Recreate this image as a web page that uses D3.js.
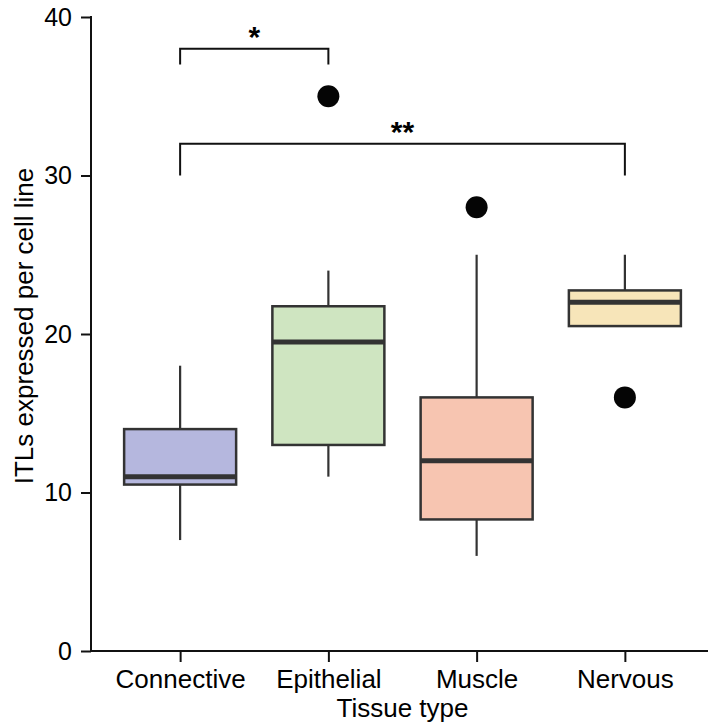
<!DOCTYPE html>
<html>
<head>
<meta charset="utf-8">
<script src="https://cdn.jsdelivr.net/npm/d3@7"></script>
<style>
  html, body { margin: 0; padding: 0; background: #fff; }
  svg { display: block; }
  text { font-family: "Liberation Sans", Arial, Helvetica, sans-serif; fill: #000; }
</style>
</head>
<body>
<svg id="chart" width="708" height="727"></svg>
<script>
// ---- Data ----
const categories   = ["Connective", "Epithelial", "Muscle", "Nervous"];
const whiskerLow   = [7, 11, 6, 20.5];
const q1           = [10.5, 13, 8.3, 20.5];
const median       = [11, 19.5, 12, 22];
const q3           = [14, 21.75, 16, 22.75];
const whiskerHigh  = [18, 24, 25, 25];
const fillColors   = ["#b5b7de", "#cfe5c1", "#f7c5b1", "#f7e5b9"];
const outlierCats  = ["Epithelial", "Muscle", "Nervous"];
const outlierVals  = [35, 28, 16];
const yTicks       = [0, 10, 20, 30, 40];
const compFrom     = ["Connective", "Connective"];
const compTo       = ["Epithelial", "Nervous"];
const compTop      = [38, 32];
const compLeg      = [37, 30];
const compLabel    = ["*", "**"];

// ---- Layout ----
const svg = d3.select("#chart");
const axisX = 91, axisBottom = 651, axisTop = 17, rightEdge = 708;

const y = d3.scaleLinear().domain([0, 40]).range([axisBottom, axisTop]);
const x = d3.scalePoint().domain(categories).range([106, 699]).padding(0.5);
const boxW = 112;
const ink = "#333";

// Y axis
const yAxis = d3.axisLeft(y).tickValues(yTicks).tickSize(10).tickPadding(9).tickSizeOuter(0);
const gy = svg.append("g").attr("transform", `translate(${axisX},0)`).call(yAxis);
gy.select(".domain").remove();
gy.selectAll(".tick line").attr("stroke", "#111").attr("stroke-width", 2);
gy.selectAll(".tick text").attr("font-size", 25).attr("font-family", "Liberation Sans, Arial, sans-serif").attr("fill", "#000");
svg.append("line").attr("x1", axisX).attr("x2", axisX).attr("y1", axisTop - 1).attr("y2", axisBottom + 1)
  .attr("stroke", "#111").attr("stroke-width", 2);

// X axis
const xAxis = d3.axisBottom(x).tickSize(11).tickPadding(8).tickSizeOuter(0);
const gx = svg.append("g").attr("transform", `translate(0,${axisBottom})`).call(xAxis);
gx.select(".domain").remove();
gx.selectAll(".tick line").attr("stroke", "#111").attr("stroke-width", 2);
gx.selectAll(".tick text").attr("font-size", 26).attr("font-family", "Liberation Sans, Arial, sans-serif").attr("fill", "#000");
svg.append("line").attr("x1", axisX - 1).attr("x2", rightEdge).attr("y1", axisBottom).attr("y2", axisBottom)
  .attr("stroke", "#111").attr("stroke-width", 2);

// Axis titles
svg.append("text").attr("x", (x("Connective") + x("Nervous")) / 2).attr("y", 717)
  .attr("text-anchor", "middle").attr("font-size", 26).text("Tissue type");
svg.append("text").attr("transform", `translate(33,326) rotate(-90)`)
  .attr("text-anchor", "middle").attr("font-size", 26).text("ITLs expressed per cell line");

// Boxes
const boxes = categories.map((c, i) => ({ c, lo: whiskerLow[i], q1: q1[i], med: median[i], q3: q3[i], hi: whiskerHigh[i], fill: fillColors[i] }));
const g = svg.append("g");
boxes.forEach(b => {
  const cx = x(b.c);
  if (b.hi > b.q3) g.append("line").attr("x1", cx).attr("x2", cx).attr("y1", y(b.hi)).attr("y2", y(b.q3)).attr("stroke", ink).attr("stroke-width", 2.2);
  if (b.lo < b.q1) g.append("line").attr("x1", cx).attr("x2", cx).attr("y1", y(b.q1)).attr("y2", y(b.lo)).attr("stroke", ink).attr("stroke-width", 2.2);
  g.append("rect").attr("x", cx - boxW / 2).attr("width", boxW).attr("y", y(b.q3)).attr("height", y(b.q1) - y(b.q3))
    .attr("fill", b.fill).attr("stroke", ink).attr("stroke-width", 2.5);
  g.append("line").attr("x1", cx - boxW / 2).attr("x2", cx + boxW / 2).attr("y1", y(b.med)).attr("y2", y(b.med))
    .attr("stroke", ink).attr("stroke-width", 5);
});

// Outliers
svg.append("g").selectAll("circle").data(outlierCats.map((c, i) => ({ c, v: outlierVals[i] })))
  .join("circle").attr("cx", d => x(d.c)).attr("cy", d => y(d.v)).attr("r", 11).attr("fill", "#050505");

// Significance brackets
compFrom.forEach((f, i) => {
  const x1 = x(f), x2 = x(compTo[i]);
  const yt = y(compTop[i]), yl = y(compLeg[i]);
  svg.append("path").attr("d", `M${x1},${yl}V${yt}H${x2}V${yl}`).attr("fill", "none").attr("stroke", "#111").attr("stroke-width", 2);
  svg.append("text").attr("x", (x1 + x2) / 2).attr("y", yt - 2).attr("text-anchor", "middle")
    .attr("font-size", 30).attr("font-weight", "bold").text(compLabel[i]);
});
</script>
</body>
</html>
